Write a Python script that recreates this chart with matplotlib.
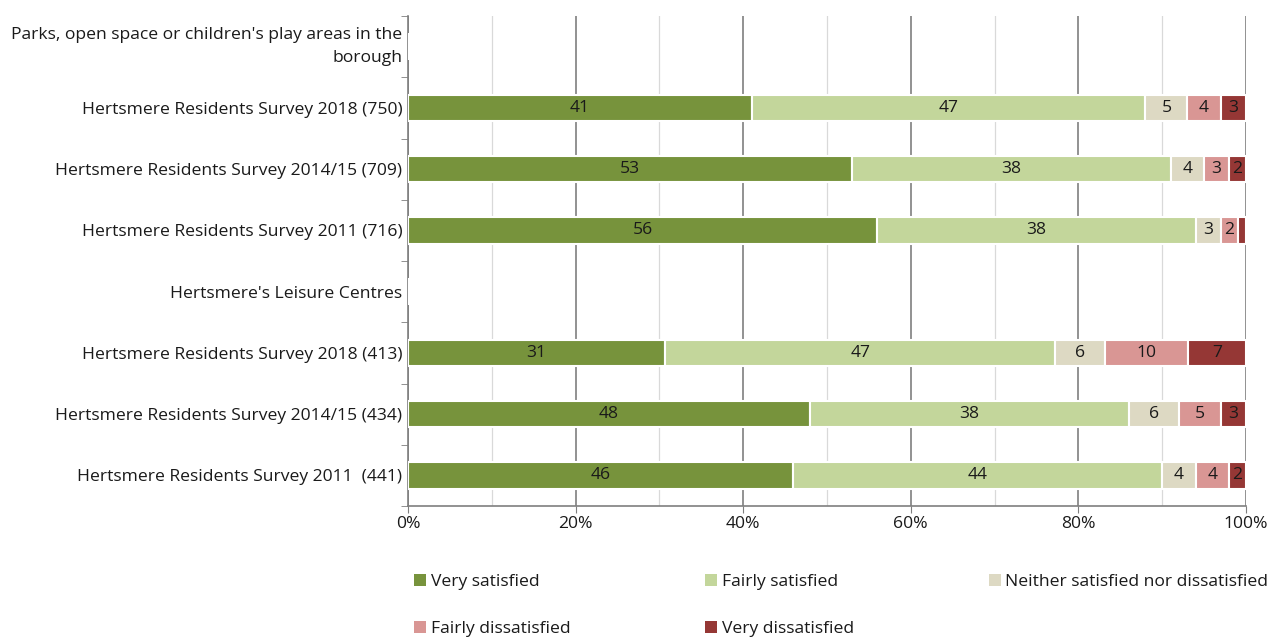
import numpy as np
import matplotlib
matplotlib.use("Agg")
from matplotlib import pyplot as plt
from matplotlib.patches import Patch

plt.rcParams['font.family'] = ['Open Sans', 'DejaVu Sans']

# Data
row_labels = [
    "Parks, open space or children's play areas in the\nborough",
    "Hertsmere Residents Survey 2018 (750)",
    "Hertsmere Residents Survey 2014/15 (709)",
    "Hertsmere Residents Survey 2011 (716)",
    "Hertsmere's Leisure Centres",
    "Hertsmere Residents Survey 2018 (413)",
    "Hertsmere Residents Survey 2014/15 (434)",
    "Hertsmere Residents Survey 2011  (441)",
]
series_names = ["Very satisfied", "Fairly satisfied", "Neither satisfied nor dissatisfied",
                "Fairly dissatisfied", "Very dissatisfied"]
very_sat = [0, 41, 53, 56, 0, 31, 48, 46]
fairly_sat = [0, 47, 38, 38, 0, 47, 38, 44]
neither = [0, 5, 4, 3, 0, 6, 6, 4]
fairly_dis = [0, 4, 3, 2, 0, 10, 5, 4]
very_dis = [0, 3, 2, 1, 0, 7, 3, 2]
colors = ["#77933C", "#C3D69B", "#DDD9C3", "#D99694", "#953735"]

values = np.array([very_sat, fairly_sat, neither, fairly_dis, very_dis], dtype=float)
totals = values.sum(axis=0)
totals[totals == 0] = 1
shares = values / totals  # 100% stacked

fs = 12.6
fig = plt.figure(figsize=(12.71, 6.39), dpi=100)
ax = fig.add_axes([408 / 1271, 1 - 506 / 639, 838 / 1271, 490 / 639])

y = np.arange(len(row_labels))
left = np.zeros(len(row_labels))
handles = []
for i, name in enumerate(series_names):
    bars = ax.barh(y, shares[i], left=left, height=0.43, color=colors[i],
                   edgecolor="white", linewidth=1.5, zorder=3)
    for j, b in enumerate(bars):
        v = values[i][j]
        if v >= 2:
            ax.text(left[j] + shares[i][j] / 2, y[j], "%d" % v, ha="center", va="center",
                    fontsize=fs, color="#1a1a1a", zorder=4)
    left += shares[i]
    handles.append(Patch(facecolor=colors[i], edgecolor="none", label=name))

ax.set_xlim(0, 1)
ax.set_ylim(len(row_labels) - 0.5, -0.5)
ax.set_xticks(np.arange(0, 1.01, 0.2))
ax.set_xticklabels(["%d%%" % (x * 100) for x in np.arange(0, 1.01, 0.2)], fontsize=fs, color="#1a1a1a")
ax.set_xticks(np.arange(0.1, 1.0, 0.2), minor=True)
ax.grid(axis="x", which="major", color="#7f7f7f", linewidth=1.2, zorder=0)
ax.grid(axis="x", which="minor", color="#d9d9d9", linewidth=0.9, zorder=0)
ax.tick_params(axis="x", which="major", length=5, color="#7f7f7f", pad=2)
ax.tick_params(axis="x", which="minor", length=0)

ax.set_yticks(y)
ax.set_yticklabels(row_labels, fontsize=fs, color="#1a1a1a", ha="right")
ax.get_yticklabels()[0].set_linespacing(1.55)
ax.get_yticklabels()[0].set_va("center")
ax.tick_params(axis="y", which="major", length=0, pad=4)
ax.set_yticks(np.arange(-0.5, len(row_labels), 1.0), minor=True)
ax.tick_params(axis="y", which="minor", length=5, color="#7f7f7f")

for s in ["top", "right"]:
    ax.spines[s].set_visible(False)
for s in ["left", "bottom"]:
    ax.spines[s].set_color("#7f7f7f")
    ax.spines[s].set_linewidth(1.2)

order = [0, 3, 1, 4, 2]
fig.legend([handles[k] for k in order], [series_names[k] for k in order],
           ncol=3, loc="upper left", bbox_to_anchor=(414 / 1271, 1 - 574 / 639),
           frameon=False, fontsize=fs, handlelength=0.7, handleheight=0.7,
           handletextpad=0.25, columnspacing=7.7, labelspacing=1.75,
           labelcolor="#1a1a1a", borderpad=0, borderaxespad=0)

plt.savefig("out.png", dpi=100)
